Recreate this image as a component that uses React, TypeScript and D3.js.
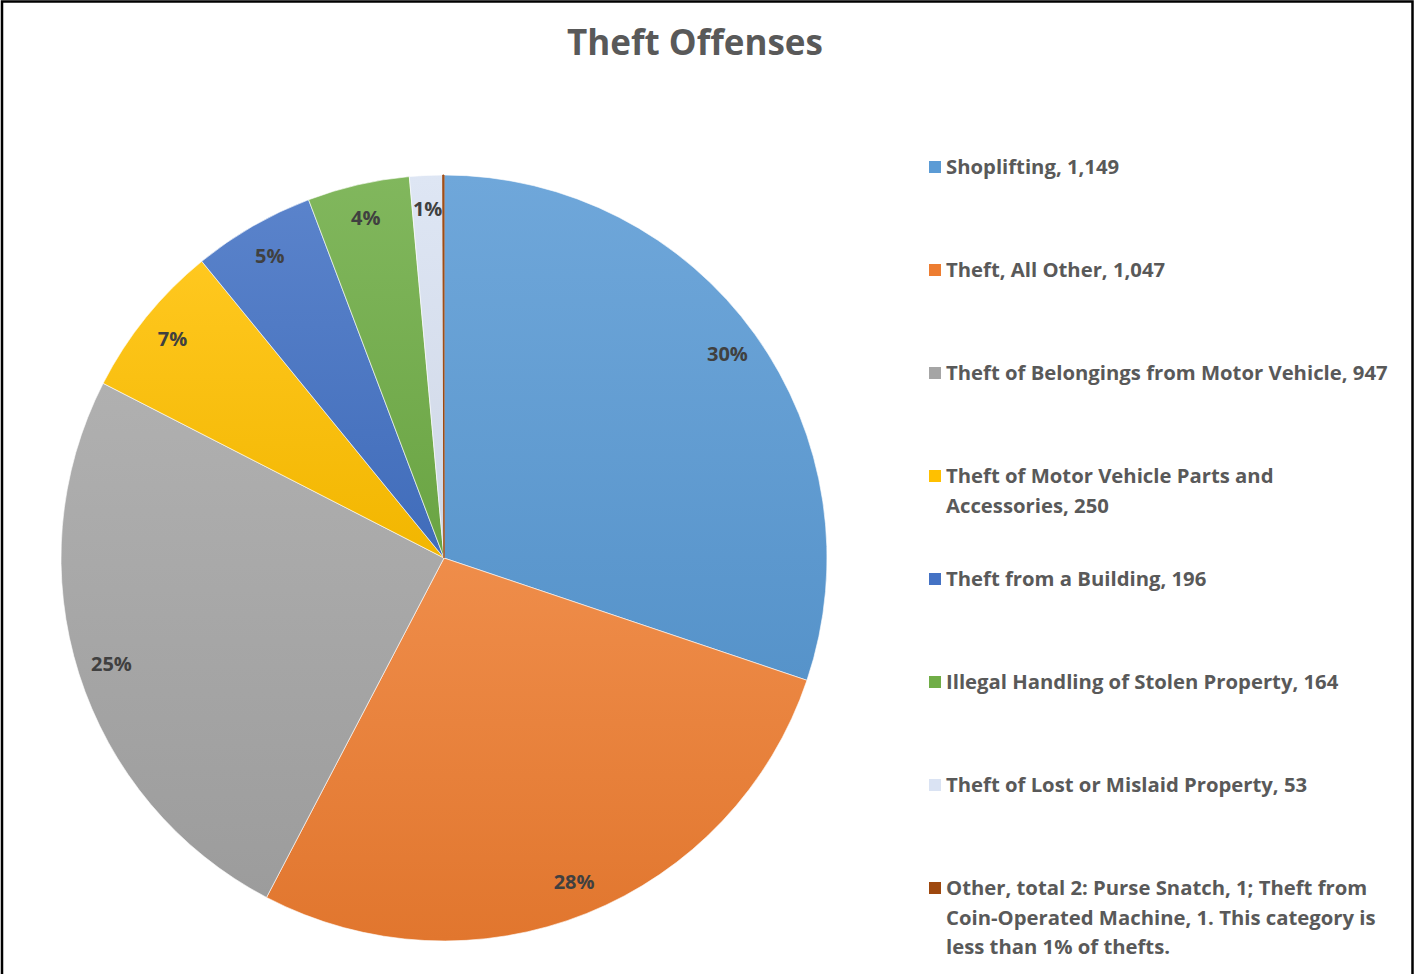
import React from "react";
import * as d3 from "d3";

const categories = [
  "Shoplifting",
  "Theft, All Other",
  "Theft of Belongings from Motor Vehicle",
  "Theft of Motor Vehicle Parts and Accessories",
  "Theft from a Building",
  "Illegal Handling of Stolen Property",
  "Theft of Lost or Mislaid Property",
  "Other",
];
const values = [1149, 1047, 947, 250, 196, 164, 53, 2];
const legendLines = [
  ["Shoplifting, 1,149"],
  ["Theft, All Other, 1,047"],
  ["Theft of Belongings from Motor Vehicle, 947"],
  ["Theft of Motor Vehicle Parts and", "Accessories, 250"],
  ["Theft from a Building, 196"],
  ["Illegal Handling of Stolen Property, 164"],
  ["Theft of Lost or Mislaid Property, 53"],
  [
    "Other, total 2: Purse Snatch, 1; Theft from",
    "Coin-Operated Machine, 1. This category is",
    "less than 1% of thefts.",
  ],
];
const pctLabels = ["30%", "28%", "25%", "7%", "5%", "4%", "1%", ""];
const colors = ["#5B9BD5", "#ED7D31", "#A5A5A5", "#FFC000", "#4472C4", "#70AD47", "#DAE3F3", "#9E480E"];
const title = "Theft Offenses";

const W = 1416;
const H = 974;
const FONT = "'Open Sans', Lato, sans-serif";

export default function App() {
  const cx = 444;
  const cy = 558;
  const r = 383;
  const pie = d3.pie<number>().sort(null).value((d) => d)(values);
  const arc = d3.arc<d3.PieArcDatum<number>>().innerRadius(0).outerRadius(r);
  const labelArc = d3.arc<d3.PieArcDatum<number>>().innerRadius(349).outerRadius(349);

  const legendX = 929;
  const legendY0 = 167;
  const legendStep = 103;
  const lineH = 29.5;

  return (
    <svg width={W} height={H} style={{ display: "block", position: "absolute", left: 0, top: 0 }}>
      <defs>
        {colors.map((c, i) => (
          <linearGradient key={i} id={`g${i}`} x1="0" y1="0" x2="0" y2="1">
            <stop offset="0" stopColor={d3.interpolateRgb(c, "#ffffff")(0.12)} />
            <stop offset="1" stopColor={d3.color(c)!.darker(0.15).formatHex()} />
          </linearGradient>
        ))}
      </defs>
      <rect x={0} y={0} width={W} height={H} fill="#fff" />
      <rect x={2} y={1.5} width={1410.5} height={H + 4} fill="none" stroke="#000" strokeWidth={2.5} />
      <text x={695} y={55} textAnchor="middle" fontFamily={FONT} fontWeight={700} fontSize={35} fill="#595959">
        {title}
      </text>
      <g transform={`translate(${cx},${cy})`}>
        {pie.map((p, i) => (
          <path
            key={categories[i]}
            d={arc(p)!}
            fill={`url(#g${i})`}
            stroke={i === values.length - 1 ? colors[i] : "#fff"}
            strokeWidth={i === values.length - 1 ? 1 : 0.6}
          />
        ))}
        {pie.map((p, i) => {
          const [x, y] = labelArc.centroid(p);
          return (
            <text
              key={"l" + i}
              x={x}
              y={y}
              dy="0.35em"
              textAnchor="middle"
              fontFamily={FONT}
              fontWeight={700}
              fontSize={20}
              fill="#404040"
            >
              {pctLabels[i]}
            </text>
          );
        })}
      </g>
      <g>
        {legendLines.map((lines, i) => {
          const y = legendY0 + i * legendStep;
          return (
            <g key={"lg" + i}>
              <rect x={legendX} y={y - 6} width={12} height={12} fill={colors[i]} />
              {lines.map((t, j) => (
                <text
                  key={j}
                  x={legendX + 17}
                  y={y + j * lineH}
                  dy="0.35em"
                  fontFamily={FONT}
                  fontWeight={700}
                  fontSize={20.3}
                  fill="#595959"
                >
                  {t}
                </text>
              ))}
            </g>
          );
        })}
      </g>
    </svg>
  );
}
